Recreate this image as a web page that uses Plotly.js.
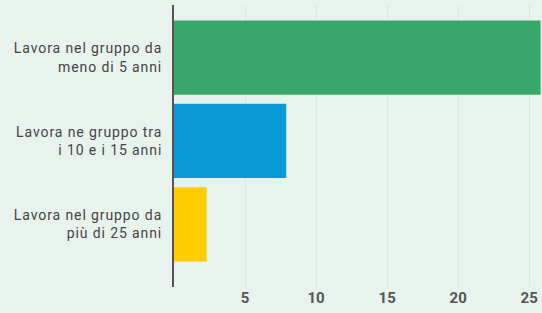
<!DOCTYPE html>
<html>
<head>
<meta charset="utf-8">
<script src="https://cdn.plot.ly/plotly-3.0.1.min.js"></script>
<style>
html,body{margin:0;padding:0;background:#e8f3ee;}
#chart{width:542px;height:313px;}
#chart .ytick text{letter-spacing:0.9px;}
</style>
</head>
<body>
<div id="chart"></div>
<script>
var categories = [
  "Lavora nel gruppo da<br>meno di 5 anni",
  "Lavora ne gruppo tra<br>i 10 e i 15 anni",
  "Lavora nel gruppo da<br>più di 25 anni"
];
var values = [25.8, 7.9, 2.3];
var barColors = ["#37a76a", "#0b9ad8", "#ffcc00"];
var xTicks = [5, 10, 15, 20, 25];

var trace = {
  type: "bar",
  orientation: "h",
  y: categories,
  x: values,
  marker: {color: barColors, line: {width: 0}},
  width: 0.89,
  hoverinfo: "none"
};

var layout = {
  width: 542,
  height: 313,
  margin: {l: 174, r: 0, t: 5, b: 26, pad: 0},
  paper_bgcolor: "#e8f3ee",
  plot_bgcolor: "#e8f3ee",
  showlegend: false,
  xaxis: {
    range: [0, 25.9],
    tickvals: xTicks,
    ticktext: xTicks.map(String),
    showgrid: true,
    gridcolor: "#dbe6e1",
    gridwidth: 1,
    zeroline: false,
    showline: false,
    ticks: "",
    tickfont: {family: "Roboto", size: 15, color: "#555555", weight: "bold"},
    fixedrange: true
  },
  yaxis: {
    type: "category",
    range: [2.75, -0.63],
    showgrid: false,
    zeroline: false,
    showline: true,
    linecolor: "#555555",
    linewidth: 2,
    ticks: "",
    ticklabelstandoff: 7,
    tickfont: {family: "Roboto", size: 14, color: "#444444"},
    fixedrange: true
  }
};

Plotly.newPlot("chart", [trace], layout, {displayModeBar: false, staticPlot: true});
</script>
</body>
</html>
